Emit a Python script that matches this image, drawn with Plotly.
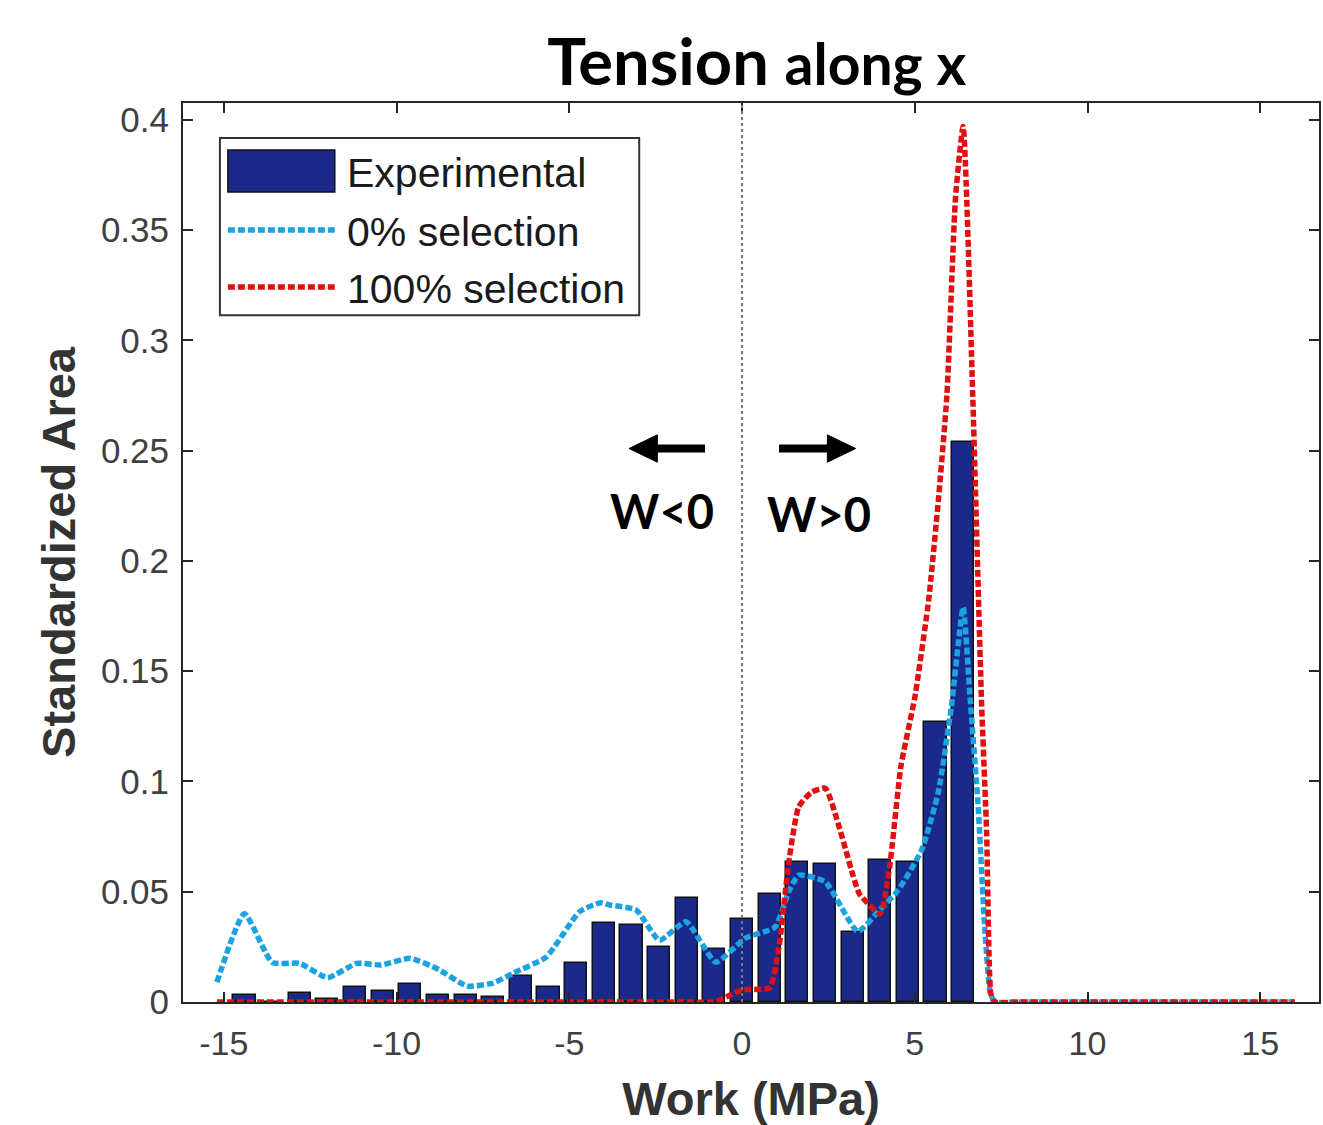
import plotly.graph_objects as go

# ---- data ----
bin_centers = [-14.4, -13.6, -12.8, -12.0, -11.2, -10.4, -9.6, -8.8, -8.0, -7.2,
               -6.4, -5.6, -4.8, -4.0, -3.2, -2.4, -1.6, -0.8, 0.0, 0.8,
               1.6, 2.4, 3.2, 4.0, 4.8, 5.6, 6.4]
experimental = [0.003, 0.0, 0.0042, 0.0012, 0.0069, 0.0048, 0.008, 0.003, 0.003, 0.0023,
                0.0118, 0.0069, 0.0175, 0.0359, 0.0347, 0.0251, 0.047, 0.024, 0.0375, 0.0492,
                0.0633, 0.0625, 0.0318, 0.0643, 0.0636, 0.127, 0.254]

sel0_x = [-15.2, -14.4, -13.6, -12.8, -12.0, -11.15, -10.45, -9.6, -8.75, -7.96, -7.2,
          -6.63, -5.66, -4.7, -4.1, -3.83, -3.06, -2.39, -1.62, -0.76, 0.1, 0.96,
          1.35, 1.64, 2.41, 3.35, 4.0, 4.52, 5.2, 5.68, 6.06, 6.4, 6.6, 6.83, 7.02,
          7.2, 7.35, 8.0, 8.8, 9.6, 10.4, 11.2, 12.0, 12.8, 13.6, 14.4, 15.2, 16.0]
sel0_y = [0.009, 0.040, 0.018, 0.0175, 0.011, 0.0175, 0.0168, 0.0198, 0.0145, 0.0072, 0.0086,
          0.013, 0.0205, 0.041, 0.045, 0.044, 0.0417, 0.028, 0.0364, 0.018, 0.029, 0.034,
          0.050, 0.0575, 0.0545, 0.032, 0.042, 0.0507, 0.069, 0.095, 0.134, 0.179, 0.138,
          0.09, 0.035, 0.003, 0.0, 0.0, 0.0, 0.0, 0.0, 0.0, 0.0, 0.0, 0.0, 0.0, 0.0, 0.0]

sel100_x = [-15.2, -14.4, -13.6, -12.8, -12.0, -11.2, -10.4, -9.6, -8.8, -8.0, -7.2,
            -6.4, -5.6, -4.8, -4.0, -3.2, -2.4, -1.6, -0.8, -0.44, 0.0, 0.8, 1.07, 1.35,
            1.64, 2.0, 2.41, 2.8, 3.2, 3.4, 4.0, 4.27, 4.6, 5.0, 5.4, 5.68, 5.93, 6.18,
            6.4, 6.68, 6.93, 7.08, 7.2, 7.3, 8.0, 8.8, 9.6, 10.4, 11.2, 12.0, 12.8, 13.6,
            14.4, 15.2, 16.0]
sel100_y = [0.0, 0.0, 0.0, 0.0, 0.0, 0.0, 0.0, 0.0, 0.0, 0.0, 0.0,
            0.0, 0.0, 0.0, 0.0, 0.0, 0.0, 0.0, 0.0, 0.0024, 0.0055, 0.0065, 0.025, 0.063,
            0.0885, 0.095, 0.097, 0.08, 0.058, 0.049, 0.040, 0.061, 0.107, 0.138, 0.182,
            0.227, 0.275, 0.365, 0.397, 0.274, 0.137, 0.077, 0.004, 0.0, 0.0, 0.0, 0.0,
            0.0, 0.0, 0.0, 0.0, 0.0, 0.0, 0.0, 0.0]

x_ticks = [-15, -10, -5, 0, 5, 10, 15]
x_ticktext = ["-15", "-10", "-5", "0", "5", "10", "15"]
y_ticks = [0, 0.05, 0.1, 0.15, 0.2, 0.25, 0.3, 0.35, 0.4]
y_ticktext = ["0", "0.05", "0.1", "0.15", "0.2", "0.25", "0.3", "0.35", "0.4"]

names = ["Experimental", "0% selection", "100% selection"]

BAR_C = "#1b2a8a"
BLUE = "#1aa3e0"
RED = "#e01010"
AX = "#262626"
SANS = "Liberation Sans, Arial, sans-serif"
TITLEF = "Lato, sans-serif"
DASH = "7px,3px"

fig = go.Figure()
fig.add_trace(go.Bar(x=bin_centers, y=experimental, width=0.64, name=names[0],
                     marker=dict(color=BAR_C, line=dict(color="#111111", width=1.5)),
                     showlegend=False))
fig.add_trace(go.Scatter(x=sel0_x, y=sel0_y, mode="lines", name=names[1],
                         line=dict(color=BLUE, width=5.5, dash=DASH, shape="spline",
                                   smoothing=0.5), showlegend=False))
fig.add_trace(go.Scatter(x=sel100_x, y=sel100_y, mode="lines", name=names[2],
                         line=dict(color=RED, width=5.5, dash=DASH, shape="spline",
                                   smoothing=0.5), showlegend=False))

shapes = []
# zero reference line
shapes.append(dict(type="line", xref="x", yref="paper", x0=0, x1=0, y0=0, y1=1,
                   line=dict(color="#777777", width=2, dash="dot"), layer="above"))
# arrows (W<0 / W>0)
ya = 0.251
shapes.append(dict(type="line", xref="x", yref="y", x0=-1.07, x1=-2.5, y0=ya, y1=ya,
                   line=dict(color="black", width=8)))
shapes.append(dict(type="path", xref="x", yref="y",
                   path=f"M -3.27 {ya} L -2.45 {ya+0.0062} L -2.45 {ya-0.0062} Z",
                   fillcolor="black", line=dict(color="black", width=1)))
shapes.append(dict(type="line", xref="x", yref="y", x0=1.07, x1=2.5, y0=ya, y1=ya,
                   line=dict(color="black", width=8)))
shapes.append(dict(type="path", xref="x", yref="y",
                   path=f"M 3.29 {ya} L 2.47 {ya+0.0062} L 2.47 {ya-0.0062} Z",
                   fillcolor="black", line=dict(color="black", width=1)))

# manual legend (paper coordinates)
shapes.append(dict(type="rect", xref="paper", yref="paper", x0=0.0325, x1=0.4016,
                   y0=0.764, y1=0.961, line=dict(color="#333333", width=2),
                   fillcolor="white", layer="above"))
shapes.append(dict(type="rect", xref="paper", yref="paper", x0=0.0395, x1=0.1336,
                   y0=0.901, y1=0.9477, line=dict(color="#111111", width=1.5),
                   fillcolor=BAR_C, layer="above"))
shapes.append(dict(type="line", xref="paper", yref="paper", x0=0.0395, x1=0.1336,
                   y0=0.8587, y1=0.8587, line=dict(color=BLUE, width=5.5, dash=DASH),
                   layer="above"))
shapes.append(dict(type="line", xref="paper", yref="paper", x0=0.0395, x1=0.1336,
                   y0=0.7953, y1=0.7953, line=dict(color=RED, width=5.5, dash=DASH),
                   layer="above"))

annotations = []
for name, yp in zip(names, [0.922, 0.8567, 0.7933]):
    annotations.append(dict(xref="paper", yref="paper", x=0.1424, y=yp, text=name,
                            showarrow=False, xanchor="left", yanchor="middle",
                            font=dict(family=SANS, size=41, color="#1a1a1a")))
annotations.append(dict(xref="x", yref="y", x=-2.33, y=0.2225, text="<b>W&lt;0</b>",
                        showarrow=False, font=dict(family=TITLEF, size=47, color="black")))
annotations.append(dict(xref="x", yref="y", x=2.22, y=0.2215, text="<b>W&gt;0</b>",
                        showarrow=False, font=dict(family=TITLEF, size=47, color="black")))

fig.update_layout(
    width=1323, height=1125,
    margin=dict(l=183, r=2, t=103, b=123),
    paper_bgcolor="white", plot_bgcolor="white",
    title=dict(text="<b>Tension <span style='font-size:57px'>along x</span></b>",
               x=0.572, xanchor="center", y=1 - 62 / 1125, yanchor="middle",
               yref="container", font=dict(family=TITLEF, size=65, color="black")),
    shapes=shapes, annotations=annotations,
    bargap=0,
)
fig.update_xaxes(range=[-16.18, 16.7], tickmode="array", tickvals=x_ticks,
                 ticktext=x_ticktext,
                 ticks="inside", ticklen=10, tickwidth=1.5, tickcolor=AX,
                 showline=True, linecolor=AX, linewidth=2, mirror="allticks",
                 showgrid=False, zeroline=False, ticklabelstandoff=10,
                 tickfont=dict(family=SANS, size=34, color="#404040"),
                 title=dict(text="<b>Work (MPa)</b>", standoff=24,
                            font=dict(family=SANS, size=47, color="#333333")))
fig.update_yaxes(range=[0, 0.4077], tickmode="array", tickvals=y_ticks, ticktext=y_ticktext,
                 ticks="inside", ticklen=10, tickwidth=1.5, tickcolor=AX,
                 showline=True, linecolor=AX, linewidth=2, mirror="allticks",
                 showgrid=False, zeroline=False, ticklabelstandoff=5,
                 tickfont=dict(family=SANS, size=35, color="#404040"),
                 title=dict(text="<b>Standardized Area</b>", standoff=10,
                            font=dict(family=SANS, size=47, color="#333333")))

fig.write_html("out.html")
